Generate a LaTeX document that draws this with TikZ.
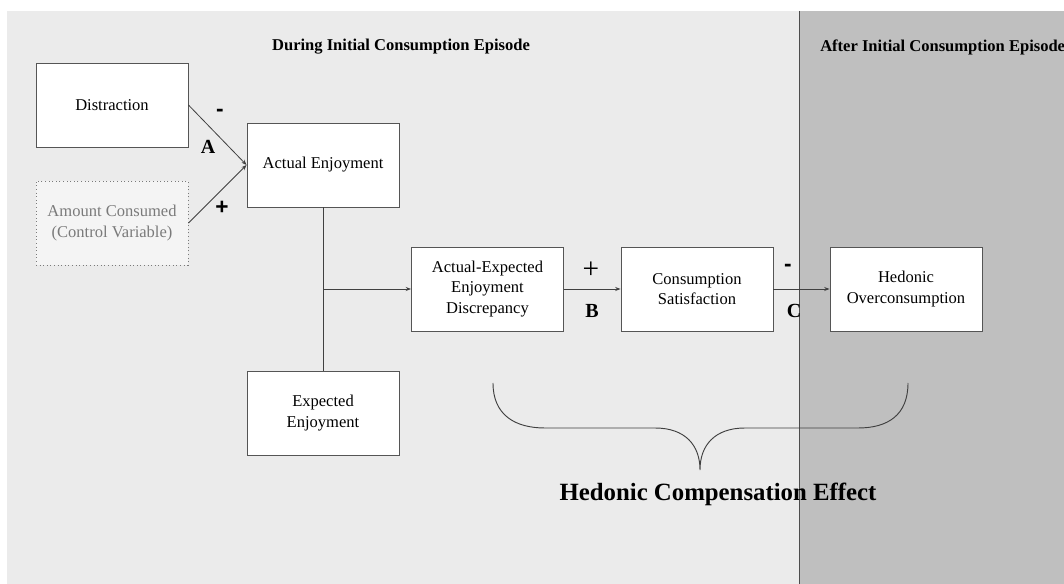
\documentclass[tikz,border=0pt]{standalone}
\usepackage{fontspec}
\setmainfont{Liberation Serif}
\newfontfamily\signfont{Liberation Sans}
\usetikzlibrary{arrows.meta}
\definecolor{lightbg}{HTML}{EBEBEB}
\definecolor{darkbg}{HTML}{BFBFBF}
\definecolor{boxline}{HTML}{555555}
\definecolor{ctrlfill}{HTML}{F4F4F4}
\definecolor{ctrltext}{HTML}{7A7A7A}
\tikzset{
  varbox/.style={draw=boxline, line width=0.7pt, fill=white, minimum width=114pt, minimum height=63pt, align=center, inner sep=2pt, font=\fontsize{12.4}{15.2}\selectfont},
  ctrlbox/.style={varbox, draw=ctrltext, dotted, fill=ctrlfill, text=ctrltext},
  link/.style={draw=black!75, line width=0.6pt},
  arr/.style={link, -{Stealth[length=4pt,width=3pt]}},
  pathlabel/.style={font=\fontsize{15}{16}\selectfont\bfseries, inner sep=0pt},
  signlabel/.style={font=\signfont\fontsize{17}{17}\selectfont\bfseries, inner sep=0pt},
  header/.style={font=\fontsize{12.4}{14}\selectfont\bfseries, inner sep=0pt},
}
\begin{document}
\begin{tikzpicture}[x=0.75pt,y=-0.75pt]
\useasboundingbox (0,0) rectangle (1064,584);
\fill[white] (0,0) rectangle (1064,584);
\fill[lightbg] (7,11) rectangle (800,584);
\fill[darkbg] (800,11) rectangle (1064,584);
\draw[black!70, line width=0.7pt] (799.5,11) -- (799.5,584);

\node[header] (h1) at (401,47) {During Initial Consumption Episode};
\node[header, anchor=west] (h2) at (820,47) {After Initial Consumption Episode};

\node[varbox] (dis) at (112,105) {\raisebox{-1pt}{Distraction}};
\node[ctrlbox] (amt) at (112,223) {Amount Consumed\\(Control Variable)};
\node[varbox] (ae) at (323,165) {\raisebox{-1pt}{Actual Enjoyment}};
\node[varbox] (ee) at (323,413) {Expected\\Enjoyment};
\node[varbox] (disc) at (487.5,289) {Actual-Expected\\Enjoyment\\Discrepancy};
\node[varbox] (cs) at (697,289) {Consumption\\Satisfaction};
\node[varbox] (ho) at (906,289) {Hedonic\\Overconsumption};

\coordinate (jn) at (ae.south |- disc.west);
\draw[arr] (dis.east) -- (ae.west);
\draw[arr] (amt.east) -- (ae.west);
\draw[link] (ae.south) -- (ee.north);
\draw[arr] (jn) -- (disc.west);
\draw[arr] (disc.east) -- (cs.west);
\draw[arr] (cs.east) -- (ho.west);

\node[signlabel] (lm1) at (220,113) {-};
\node[pathlabel] (la) at (208,147) {A};
\node[signlabel] (lp1) at (222,208) {+};
\node[inner sep=0pt, font=\fontsize{22}{22}\selectfont] (lp2) at (591,270) {+};
\node[pathlabel] (lb) at (592,311) {B};
\node[signlabel] (lm2) at (788,268) {-};
\node[pathlabel] (lc) at (794,311) {C};

\draw[link, line width=0.7pt] (493,383) .. controls (493,415) and (515,428) .. (545,428) -- (655,428) .. controls (685,428) and (700,445) .. (700,470)
  .. controls (700,445) and (715,428) .. (745,428) -- (858,428) .. controls (888,428) and (908,415) .. (908,383);

\node[inner sep=0pt, font=\fontsize{18.6}{20}\selectfont\bfseries] (hce) at (718,494) {Hedonic Compensation Effect};
\end{tikzpicture}
\end{document}
